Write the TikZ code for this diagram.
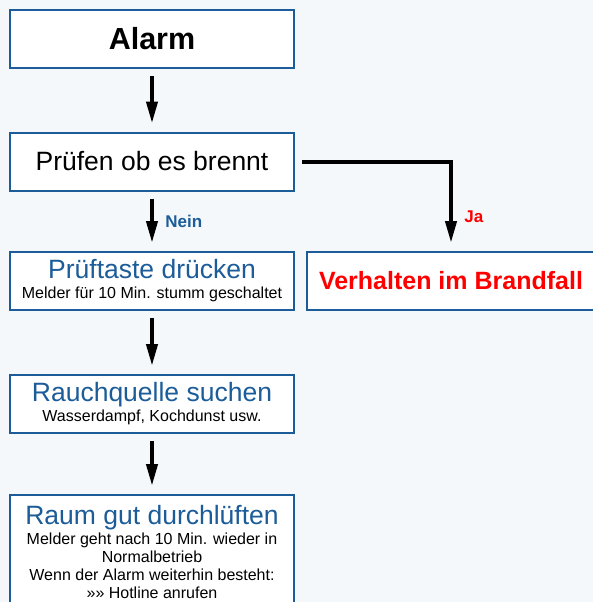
\documentclass[tikz,border=0pt]{standalone}
\usepackage{fontspec}
\setmainfont{Liberation Sans}
\usetikzlibrary{arrows.meta}

\definecolor{rahmen}{HTML}{1B5C99}
\definecolor{feuer}{HTML}{FF0000}
\definecolor{hinter}{HTML}{F5F8FA}
\newcommand{\titel}[1]{{\fontsize{26.5}{28}\selectfont\color{rahmen}#1}}
\newcommand{\hinweis}{\fontsize{16}{18}\selectfont}

\begin{document}
\begin{tikzpicture}[x=1pt,y=-1pt,
        box/.style={draw=rahmen,line width=2pt,fill=white,
            minimum width=284pt,minimum height=58pt,align=center,inner sep=2pt,
            font=\hinweis},
        pfeil/.style={-{Triangle[length=22pt,width=11pt]},line width=4pt,
            shorten <=7pt,shorten >=8pt},
        antwort/.style={font=\fontsize{17}{17}\selectfont\bfseries}]
        \fill[hinter] (0,0) rectangle (593,602);
        \useasboundingbox (0,0) rectangle (593,602);

        \path (152,39) node[box,font=\fontsize{30.5}{31}\selectfont\bfseries] (alarm) {Alarm};
        \path (152,161.5) node[box,font=\fontsize{26.5}{27}\selectfont] (pruefen) {Prüfen ob es brennt};
        \path (152,281) node[box] (taste) {\titel{Prüftaste drücken}\\[2pt]
            Melder für 10 Min. stumm geschaltet};
        \path (451,281) node[box,minimum width=288pt,
            font=\fontsize{25}{26}\selectfont\bfseries,text=feuer] (brandfall) {Verhalten im Brandfall};
        \path (152,552) node[box,minimum height=114pt] (lueften) {\titel{Raum gut durchlüften}\\[2pt]
            Melder geht nach 10 Min. wieder in\\
            Normalbetrieb\\
            Wenn der Alarm weiterhin besteht:\\
            »» Hotline anrufen};
        \path (152,404) node[box] (rauch) {\titel{Rauchquelle suchen}\\[2pt]
            Wasserdampf, Kochdunst usw.};

        % Ablauf
        \draw[pfeil] (alarm) -- (pruefen);
        \draw[pfeil] (pruefen) -- node[antwort,text=rahmen,right,xshift=8pt] (nein) {Nein} (taste);
        \draw[pfeil] (taste) -- (rauch);
        \draw[pfeil] (rauch) -- (lueften);

        % Brandfall
        \draw[pfeil] (pruefen.east) -| node[antwort,text=feuer,right,pos=0.81,xshift=8pt] (ja) {Ja} (brandfall.north);

    \end{tikzpicture}
\end{document}
